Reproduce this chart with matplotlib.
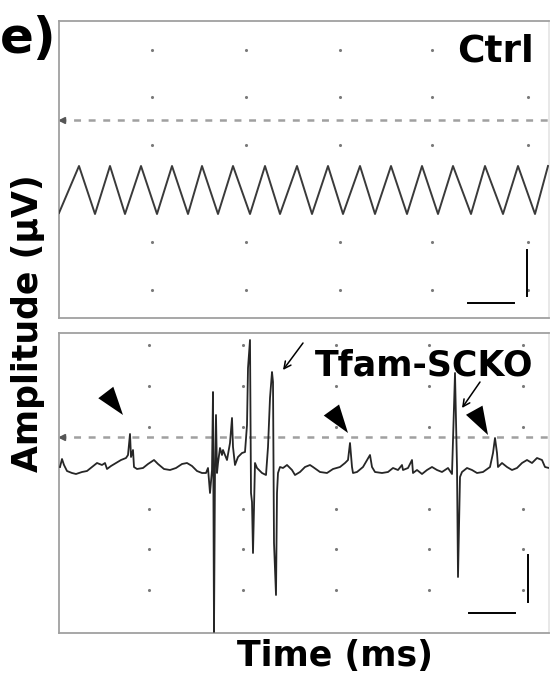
import numpy as np
import matplotlib
matplotlib.use("Agg")
import matplotlib.pyplot as plt

plt.rcParams.update({"font.family": ["DejaVu Sans"], "lines.scale_dashes": False})

# ---- Ctrl trace: vertex times (ms) and amplitudes (uV)
ctrl_t = [0, 20, 36, 51, 66, 82, 98, 113, 129, 143, 159, 174, 191, 206, 221, 238,
          253, 269, 284, 301, 316, 332, 348, 363, 379, 394, 412, 426, 444, 459, 476, 489]
ctrl_v = [-23, 24, -24, 24, -24, 24, -24, 24, -24, 24, -24, 24, -24, 24, -24, 24,
          -24, 24, -24, 24, -24, 24, -24, 24, -24, 24, -24, 24, -24, 24, -24, 24]

# ---- Tfam-SCKO trace
ko_t = [1, 3, 5, 8, 13, 17, 23, 28, 33, 38, 43, 46, 48, 52, 57, 62, 67, 69, 71, 72,
        74, 75, 78, 84, 89, 95, 99, 105, 111, 117, 123, 128, 133, 138, 143, 147, 149,
        151, 153, 154, 155, 156, 157, 158, 159, 161, 163, 164, 168, 171, 173, 174, 176,
        179, 183, 186, 188, 189, 191, 192, 193, 194, 196, 198, 203, 207, 209, 211, 213,
        214, 215, 217, 218, 219, 221, 224, 228, 233, 236, 241, 246, 251, 254, 261, 268,
        274, 281, 286, 289, 291, 293, 294, 298, 304, 311, 313, 316, 323, 329, 334, 339,
        343, 344, 349, 353, 354, 358, 363, 368, 373, 378, 383, 389, 393, 396, 398, 399,
        401, 403, 408, 413, 418, 424, 431, 434, 436, 438, 439, 443, 448, 453, 458, 463,
        468, 473, 478, 483, 486, 490]
ko_v = [0, 8, 2, -4, -6, -7, -5, -4, 0, 4, 2, 4, -2, 1, 4, 7, 9, 12, 33, 10,
        17, 0, -2, -1, 3, 7, 3, -2, -3, -1, 3, 4, 1, -4, -6, -6, -1,
        -26, -3, 75, -165, -3, 52, -6, 4, 19, 12, 17, 7, 24, 49, 20, 2,
        10, 14, 15, 42, 99, 127, -26, -35, -86, 4, -1, -6, -8, 20, 69, 95,
        85, -76, -128, -26, -6, 0, -1, 2, -3, -8, -5, 0, 2, 0, -5, -6,
        -2, 0, 4, 7, 24, 0, -6, -5, 0, 12, 0, -5, -6, -5, -1, -3,
        2, -3, -1, 7, -6, -3, -7, -3, 0, -3, -5, -1, -7, 94, 0, -110,
        -10, -5, -1, -3, -6, -5, 0, 14, 29, 14, 0, 4, 0, -3, -1, 4,
        7, 4, 9, 7, 0, -1]

# oscilloscope grid dots
ctrl_grid_t = [93, 187, 281, 373, 469]
ctrl_grid_v = [140, 93, 45, -52, -100]
ko_grid_t = [90, 184, 277, 370, 464]
ko_grid_v = [122, 81, 40, -42, -82, -123]

ctrl_level, ko_level = 70, 30          # dashed trigger levels
arrowheads = [((51, 69), (64, 52)), ((276, 52), (289, 34)), ((419, 50), (429, 32))]
arrows = [((244, 124), (224, 97)), ((421, 85), (403, 59))]

W, H = 550, 677
fig = plt.figure(figsize=(5.5, 6.77), dpi=100)
ax1 = fig.add_axes([59 / W, 1 - 318 / H, 490 / W, 297 / H])
ax2 = fig.add_axes([59 / W, 1 - 633 / H, 490 / W, 300 / H])

GRID, DASH, SPINE = "#7a7a7a", "#a0a0a0", "#a0a0a0"


def scope(ax, gt, gv, level, ylim):
    ax.set_xlim(0, 490)
    ax.set_ylim(*ylim)
    ax.set_xticks([]); ax.set_yticks([])
    for s in ax.spines.values():
        s.set_color(SPINE); s.set_linewidth(1.3)
    ax.spines["right"].set_color("#e6e6e6")
    gx, gy = np.meshgrid(gt, gv)
    ax.scatter(gx.ravel(), gy.ravel(), s=5, color=GRID, lw=0, zorder=1)
    ax.axhline(level, color=DASH, lw=1.8, dashes=(5, 5.5), zorder=1)
    ax.plot(3, level, marker="<", ms=4, color="#555555", zorder=2)


scope(ax1, ctrl_grid_t, ctrl_grid_v, ctrl_level, (-128, 169))
scope(ax2, ko_grid_t, ko_grid_v, ko_level, (-166, 134))

ax1.plot(ctrl_t, ctrl_v, color="#3a3a3a", lw=1.4, zorder=3)
ax2.plot(ko_t, ko_v, color="#262626", lw=1.3, zorder=3)

# scale bars
ax1.plot([468, 468], [-60, -106], color="k", lw=1.4)
ax1.plot([409, 455], [-113, -113], color="k", lw=1.4)
ax2.plot([469, 469], [-88, -135], color="k", lw=1.4)
ax2.plot([410, 456], [-146, -146], color="k", lw=1.4)

ax1.text(475, 128, "Ctrl", fontsize=27, fontweight="heavy", ha="right", va="baseline")
ax2.text(256, 92, "Tfam-SCKO", fontsize=25, fontweight="heavy", ha="left",
         va="baseline", clip_on=False, zorder=2)

for base, tip in arrowheads:
    ax2.annotate("", xy=tip, xytext=base,
                 arrowprops=dict(arrowstyle="-|>,head_length=1.2,head_width=0.4",
                                 color="k", lw=0, mutation_scale=17,
                                 shrinkA=0, shrinkB=0))
for start, tip in arrows:
    ax2.annotate("", xy=tip, xytext=start,
                 arrowprops=dict(arrowstyle="->,head_length=0.5,head_width=0.25",
                                 color="k", lw=1.1, mutation_scale=10,
                                 shrinkA=0, shrinkB=0))

fig.text(56 / W, 1 - 53 / H, "e)", fontsize=36, fontweight="heavy", ha="right", va="baseline")
fig.text(28 / W, 1 - 323 / H, "Amplitude (\u00b5V)", fontsize=25, fontweight="heavy",
         rotation=90, ha="center", va="center")
fig.text(335 / W, 1 - 656 / H, "Time (ms)", fontsize=25, fontweight="heavy",
         ha="center", va="center")

fig.savefig("out.png", dpi=100)
